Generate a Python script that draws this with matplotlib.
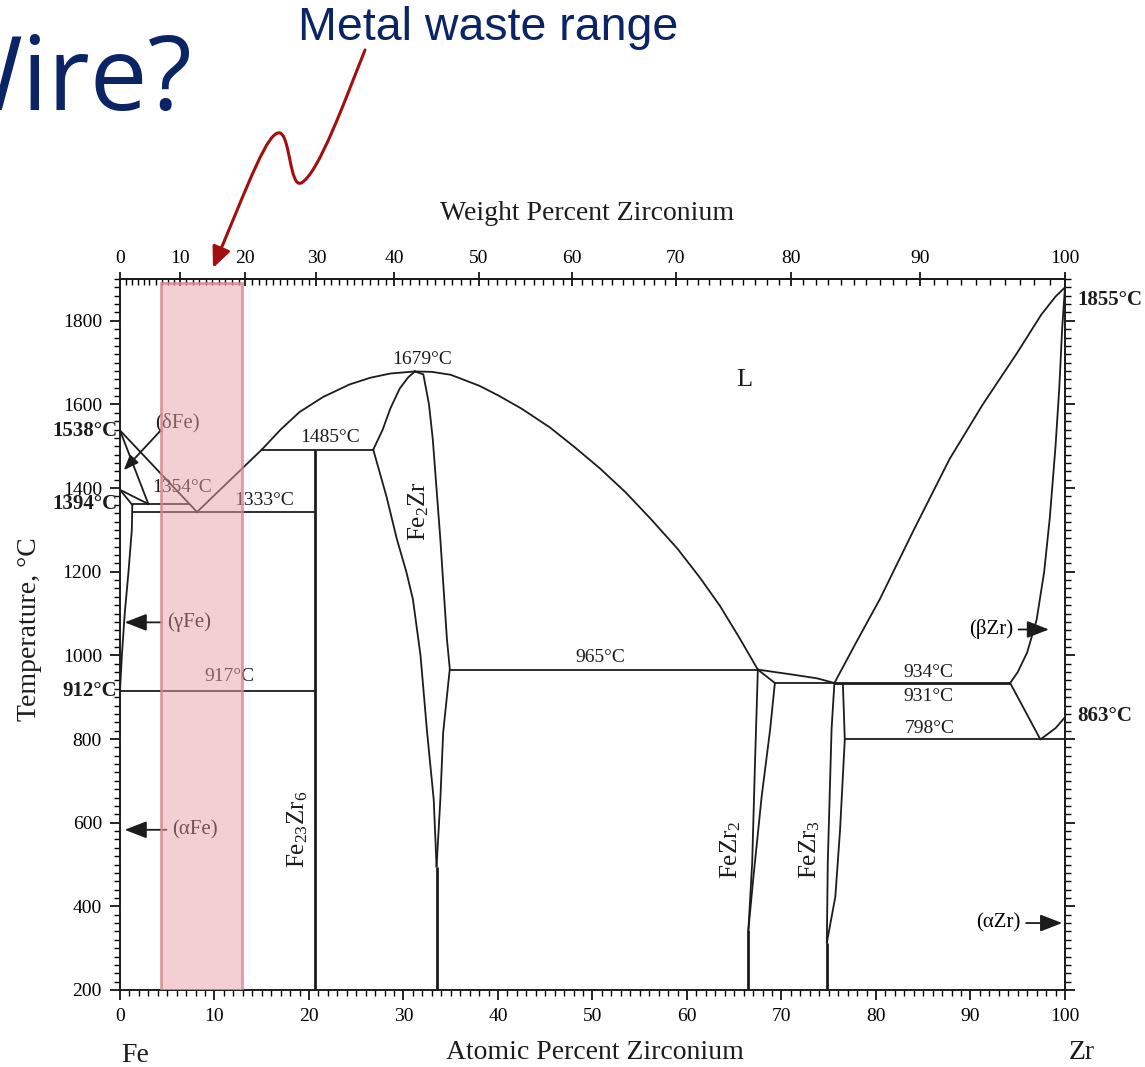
import numpy as np
import matplotlib as mpl
import matplotlib.pyplot as plt
from matplotlib.patches import Rectangle, FancyArrowPatch
from matplotlib.path import Path

serif = 'Liberation Serif'
mpl.rcParams['mathtext.fontset'] = 'custom'
mpl.rcParams['mathtext.rm'] = serif
mpl.rcParams['mathtext.it'] = serif + ':italic'
mpl.rcParams['mathtext.default'] = 'rm'

M_FE, M_ZR = 55.845, 91.224

# phase boundaries as (atomic % Zr, temperature in C)
delta_liquidus = [(0, 1538), (8.15, 1343)]
delta_solidus = [(0, 1538), (3.0, 1362)]
delta_solvus = [(0, 1396), (3.0, 1362)]
gamma_upper = [(0, 1396), (1.3, 1360)]
gamma_solvus = [(1.3, 1360), (1.25, 1300), (0.9, 1200), (0.5, 1100), (0.2, 1000), (0, 915)]
eut_liquidus = [(8.15, 1343), (15.0, 1492)]
dome_left = [(15.0, 1492), (17.0, 1540), (19.0, 1582), (21.5, 1618), (24.3, 1648),
             (26.5, 1664), (28.6, 1674), (31.2, 1679)]
dome_right = [(31.2, 1679), (33.0, 1678), (35.0, 1671), (38.0, 1645), (40.0, 1622),
              (42.5, 1590), (45.5, 1545), (48.0, 1500), (50.8, 1447), (53.5, 1390),
              (56.1, 1328), (59.0, 1255), (61.4, 1185), (63.5, 1118), (65.6, 1040), (67.5, 966)]
fe2zr_left_top = [(26.8, 1492), (27.8, 1540), (28.6, 1590), (29.6, 1638), (30.5, 1665), (31.2, 1679)]
fe2zr_left = [(26.8, 1492), (28.2, 1380), (29.3, 1278), (30.3, 1200), (31.0, 1134),
              (31.8, 1000), (32.5, 816), (33.2, 655), (33.5, 495)]
fe2zr_right = [(31.2, 1679), (32.1, 1672), (32.7, 1600), (33.1, 1517), (33.9, 1278),
               (34.6, 1038), (34.9, 968), (34.2, 816), (33.9, 655), (33.5, 495)]
fezr2_left = [(67.5, 966), (67.2, 744), (66.9, 504), (66.5, 344)]
fezr2_right = [(69.3, 934), (68.8, 823), (67.9, 662), (67.0, 463), (66.5, 344)]
fezr2_top = [(67.5, 966), (69.3, 934)]
eut2_liquidus = [(67.5, 966), (71.2, 954), (73.8, 945), (75.6, 934)]
fezr3_left = [(75.6, 934), (75.3, 823), (74.9, 504), (74.8, 313)]
fezr3_right = [(76.5, 931), (76.7, 799), (76.2, 583), (75.7, 423), (74.8, 313)]
zr_liquidus = [(75.6, 934), (78.0, 1035), (80.4, 1134), (84.0, 1300), (87.8, 1470),
               (91.3, 1600), (94.9, 1722), (97.5, 1815), (99.0, 1858), (100, 1880)]
zr_solidus = [(100, 1880), (99.7, 1780), (99.4, 1640), (99.0, 1500), (98.4, 1330),
              (97.8, 1200), (97.0, 1085), (96.0, 1007), (95.0, 960), (94.2, 934)]
beta_solvus = [(94.2, 934), (97.4, 799), (99.0, 826), (100, 852)]

# isotherms: start, end, temperature
iso_x0 = [1.3, 1.3, 15.0, 0, 34.9, 69.3, 75.6, 76.7]
iso_x1 = [7.36, 20.6, 26.8, 20.6, 67.5, 94.2, 94.2, 100]
iso_t = [1362, 1343, 1492, 915, 966, 934, 931, 799]

# line compounds / single-phase stems: x, top, bottom
stem_x = [20.6, 33.5, 66.5, 74.8, 100]
stem_top = [1492, 495, 344, 313, 852]
stem_bot = [200, 200, 200, 200, 200]

waste_range = (4.3, 12.9)


def at_to_wt(a):
    a = np.asarray(a, dtype=float)
    return 100 * a * M_ZR / (a * M_ZR + (100 - a) * M_FE)


def wt_to_at(w):
    w = np.asarray(w, dtype=float)
    return 100 * (w / M_ZR) / (w / M_ZR + (100 - w) / M_FE)


ink = '#1c1c1c'
navy = '#0b2466'

fig = plt.figure(figsize=(11.45, 10.67), dpi=100)
ax = fig.add_axes([0.1048, 0.0722, 0.8253, 0.6663])

curves = [delta_liquidus, delta_solidus, delta_solvus, gamma_upper, gamma_solvus,
          eut_liquidus, dome_left, dome_right, fe2zr_left_top, fe2zr_left, fe2zr_right,
          fezr2_left, fezr2_right, fezr2_top, eut2_liquidus, fezr3_left, fezr3_right,
          zr_liquidus, zr_solidus, beta_solvus]
for c in curves:
    xs, ts = zip(*c)
    ax.plot(xs, ts, color=ink, lw=1.3)

ax.hlines(iso_t, iso_x0, iso_x1, color=ink, lw=1.3)
ax.vlines(stem_x, stem_bot, stem_top, color=ink, lw=2.0)

ax.set_xlim(0, 100)
ax.set_ylim(200, 1900)
ax.set_xticks(np.arange(0, 101, 10))
ax.set_xticks(np.arange(0, 101, 1), minor=True)
ax.set_yticks(np.arange(200, 1801, 200))
ax.set_yticks(np.arange(200, 1901, 20), minor=True)
ax.tick_params(which='major', direction='out', length=7, width=1.2,
               labelsize=14, right=True, pad=6)
ax.tick_params(which='minor', direction='out', length=4, width=1.0, right=True)
ax.tick_params(axis='x', which='both', top=False)
for lab in ax.get_xticklabels() + ax.get_yticklabels():
    lab.set_fontfamily(serif)
for s in ax.spines.values():
    s.set_linewidth(1.4)
    s.set_color(ink)

sec = ax.secondary_xaxis('top', functions=(at_to_wt, wt_to_at))
sec.set_xticks(np.arange(0, 101, 10))
sec.set_xticks(np.arange(0, 101, 1), minor=True)
sec.tick_params(which='major', direction='inout', length=10, width=1.2, labelsize=14, pad=4)
sec.tick_params(which='minor', direction='in', length=4, width=1.0)
for lab in sec.get_xticklabels():
    lab.set_fontfamily(serif)
sec.spines['top'].set_linewidth(1.4)

# labels inside the diagram
txt = dict(family=serif, color=ink, fontsize=14, ha='center', va='center')
ax.text(32.0, 1707, '1679°C', **txt)
ax.text(66.1, 1659, 'L', **{**txt, 'fontsize': 19})
ax.text(6.1, 1556, '(δFe)', **{**txt, 'fontsize': 15})
ax.text(6.6, 1402, '1354°C', **txt)
ax.text(15.3, 1371, '1333°C', **txt)
ax.text(22.2, 1522, '1485°C', **txt)
ax.text(50.8, 995, '965°C', **txt)
ax.text(11.6, 950, '917°C', **txt)
ax.text(85.5, 959, '934°C', **txt)
ax.text(85.5, 902, '931°C', **txt)
ax.text(85.7, 825, '798°C', **txt)
ax.text(31.6, 1345, r'Fe$_2$Zr', rotation=90, **{**txt, 'fontsize': 18})
ax.text(18.8, 583, r'Fe$_{23}$Zr$_6$', rotation=90, **{**txt, 'fontsize': 18})
ax.text(64.6, 535, r'FeZr$_2$', rotation=90, **{**txt, 'fontsize': 18})
ax.text(73.0, 535, r'FeZr$_3$', rotation=90, **{**txt, 'fontsize': 18})

arr = dict(arrowstyle='-|>,head_length=0.9,head_width=0.35', color=ink, lw=1.3)
ax.annotate('(γFe)', xy=(0.2, 1079), xytext=(5.0, 1079), ha='left', va='center',
            family=serif, fontsize=15, arrowprops=arr)
ax.annotate('(αFe)', xy=(0.2, 583), xytext=(5.5, 583), ha='left', va='center',
            family=serif, fontsize=15, arrowprops=arr)
ax.annotate('', xy=(0.2, 1438), xytext=(4.6, 1545), arrowprops=arr)
ax.annotate('(βZr)', xy=(98.6, 1062), xytext=(94.5, 1062), ha='right', va='center',
            family=serif, fontsize=15, arrowprops=arr)
ax.annotate('(αZr)', xy=(100, 360), xytext=(95.3, 360), ha='right', va='center',
            family=serif, fontsize=15, arrowprops=arr)

bold = dict(family=serif, color=ink, fontsize=15, fontweight='bold', va='center', clip_on=False)
ax.text(-0.3, 1536, '1538°C', ha='right', **bold)
ax.text(-0.3, 1362, '1394°C', ha='right', **bold)
ax.text(-0.3, 916, '912°C', ha='right', **bold)
ax.text(101.3, 1851, '1855°C', ha='left', **bold)
ax.text(101.3, 856, '863°C', ha='left', **bold)

# highlighted composition band
ax.add_patch(Rectangle((waste_range[0], 200), waste_range[1] - waste_range[0], 1690,
                       facecolor='#e9a0a8', alpha=0.5, edgecolor='none', zorder=5))
ax.add_patch(Rectangle((waste_range[0], 200), waste_range[1] - waste_range[0], 1690,
                       facecolor='none', edgecolor='#d7848d', lw=2, alpha=0.8, zorder=6))

fig.text(0.026, 0.41, 'Temperature, °C', rotation=90, family=serif, fontsize=20,
         ha='center', va='center', color=ink)
fig.text(0.52, 0.0135, 'Atomic Percent Zirconium', family=serif, fontsize=20,
         ha='center', va='center', color=ink)
fig.text(0.5127, 0.80, 'Weight Percent Zirconium', family=serif, fontsize=20,
         ha='center', va='center', color=ink)
fig.text(0.118, 0.011, 'Fe', family=serif, fontsize=20, ha='center', va='center', color=ink)
fig.text(0.945, 0.0135, 'Zr', family=serif, fontsize=20, ha='center', va='center', color=ink)

# slide title fragment and callout
fig.text(-0.063, 1 - 110 / 1067, 'Wire?', family='Open Sans', fontsize=74,
         color=navy, ha='left', va='baseline')
fig.text(488 / 1145, 1 - 40 / 1067, 'Metal waste range', family='Liberation Sans',
         fontsize=33.5, color=navy, ha='center', va='baseline')

ov = fig.add_axes([0, 0, 1, 1], facecolor='none')
ov.set_xlim(0, 1145)
ov.set_ylim(1067, 0)
ov.axis('off')
verts = [(365, 50), (345, 100), (318, 175), (301, 183),
         (290, 188), (290, 136), (280, 133),
         (268, 130), (250, 180), (213, 268)]
codes = [Path.MOVETO] + [Path.CURVE4] * 9
ov.add_patch(FancyArrowPatch(path=Path(verts, codes),
                             arrowstyle='-|>,head_length=0.9,head_width=0.4',
                             mutation_scale=14, color='#a30f0f', lw=2.2))

fig.savefig('out.png', dpi=100)
